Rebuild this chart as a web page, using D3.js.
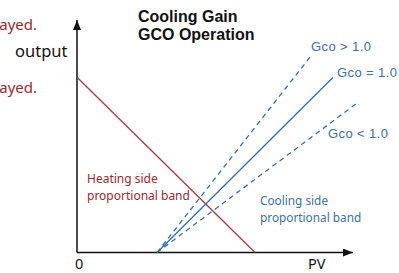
<!DOCTYPE html>
<html>
<head>
<meta charset="utf-8">
<script src="https://cdn.jsdelivr.net/npm/d3@7"></script>
<style>
  html, body { margin: 0; padding: 0; background: #fff; }
  svg { display: block; }
</style>
</head>
<body>
<div id="chart"></div>
<script>
// PV / output in percent of the axis length
const heatingLine = [ { pv: 0, out: 75.4 }, { pv: 64.5, out: 0 } ];
const coolingLines = [
  { name: 'Gco > 1.0', dashed: true,  pts: [ { pv: 29, out: 0 }, { pv: 84.4, out: 84 } ] },
  { name: 'Gco = 1.0', dashed: false, pts: [ { pv: 29, out: 0 }, { pv: 92.8, out: 75.4 } ] },
  { name: 'Gco < 1.0', dashed: true,  pts: [ { pv: 29, out: 0 }, { pv: 101.4, out: 64.2 } ] }
];
const titleLines = ['Cooling Gain', 'GCO Operation'];
const heatingLabel = ['Heating side', 'proportional band'];
const coolingLabel = ['Cooling side', 'proportional band'];

const W = 399, H = 273;
const RED = '#b3353a', RED_TXT = '#a0282d';
const BLUE = '#2f6fb0', BLUE_TXT = '#3b6fa8';

const svg = d3.select('#chart').append('svg')
  .attr('width', W).attr('height', H);

const x = d3.scaleLinear().domain([0, 100]).range([77, 353]);
const y = d3.scaleLinear().domain([0, 100]).range([252.5, 20]);

// arrow markers
const defs = svg.append('defs');
defs.append('marker')
  .attr('id', 'arr')
  .attr('viewBox', '0 0 10 8')
  .attr('refX', 10).attr('refY', 4)
  .attr('markerWidth', 10).attr('markerHeight', 8)
  .attr('markerUnits', 'userSpaceOnUse')
  .attr('orient', 'auto')
  .append('path').attr('d', 'M0,0 L10,4 L0,8 Z').attr('fill', '#111');

// axes
svg.append('line')
  .attr('x1', x(0)).attr('y1', y(0)).attr('x2', x(0)).attr('y2', y(100))
  .attr('stroke', '#111').attr('stroke-width', 1.5).attr('marker-end', 'url(#arr)');
svg.append('line')
  .attr('x1', x(0)).attr('y1', y(0)).attr('x2', x(100)).attr('y2', y(0))
  .attr('stroke', '#111').attr('stroke-width', 1.5).attr('marker-end', 'url(#arr)');

const line = d3.line().x(d => x(d.pv)).y(d => y(d.out));

svg.append('path')
  .attr('d', line(heatingLine))
  .attr('fill', 'none').attr('stroke', RED).attr('stroke-width', 1.3);

svg.append('g').selectAll('path')
  .data(coolingLines)
  .enter().append('path')
  .attr('d', d => line(d.pts))
  .attr('fill', 'none')
  .attr('stroke', BLUE)
  .attr('stroke-width', 1.3)
  .attr('stroke-dasharray', d => d.dashed ? '5,4' : null);

// text
const txt = (s, tx, ty, opts) => {
  const t = svg.append('text').attr('x', tx).attr('y', ty).text(s)
    .attr('font-family', opts.family || '"Noto Sans", sans-serif')
    .attr('font-size', opts.size)
    .attr('fill', opts.color || '#111');
  if (opts.weight) t.attr('font-weight', opts.weight);
  if (opts.anchor) t.attr('text-anchor', opts.anchor);
  if (opts.ls) t.attr('letter-spacing', opts.ls);
  return t;
};

txt('ayed.', 37, 30, { size: 15, color: RED_TXT, anchor: 'end' });
txt('ayed.', 37, 93, { size: 15, color: RED_TXT, anchor: 'end' });
txt('output', 15, 57, { size: 16.5 });
txt('0', 75, 268.5, { size: 14.5 });
txt('PV', 308, 268.5, { size: 14.5 });

titleLines.forEach((s, i) => txt(s, 138, 22 + i * 18,
  { size: 16, weight: 'bold', family: '"Liberation Sans", Arial, sans-serif' }));
heatingLabel.forEach((s, i) => txt(s, 87, 183 + i * 17, { size: 12, color: RED_TXT }));
coolingLabel.forEach((s, i) => txt(s, 260, 205 + i * 16.5, { size: 11.8, color: BLUE_TXT }));

const gcoPos = [ [311, 51], [337, 77], [328, 138] ];
coolingLines.forEach((d, i) => txt(d.name, gcoPos[i][0], gcoPos[i][1],
  { size: 13, color: BLUE_TXT, family: '"Liberation Sans", Arial, sans-serif', ls: 0.4 }));
</script>
</body>
</html>
